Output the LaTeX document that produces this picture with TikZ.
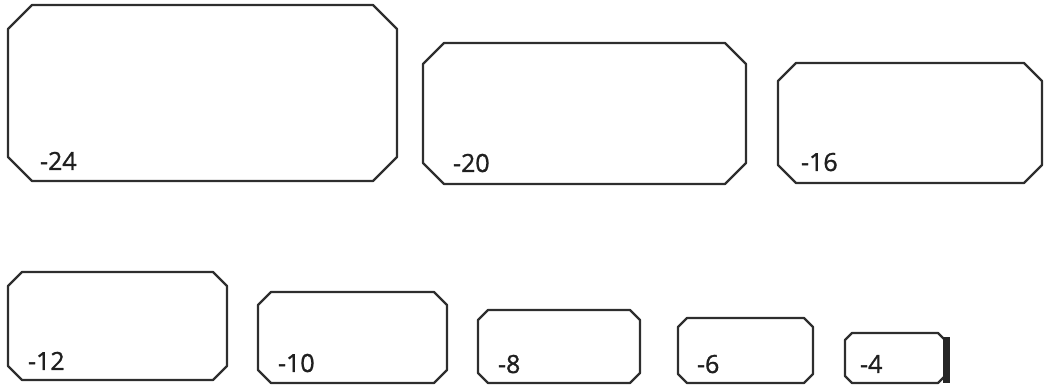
\documentclass[tikz,border=0pt]{standalone}
\usepackage{fontspec}
\setmainfont{Open Sans}[AutoFakeBold=1.2]
\usetikzlibrary{calc}
% outline with cut corners round a named node
\newcommand{\cutbox}[2]{%
  \draw[edge] ([xshift=#2]#1.north west) -- ([xshift=-#2]#1.north east)
    -- ([yshift=-#2]#1.north east) -- ([yshift=#2]#1.south east)
    -- ([xshift=-#2]#1.south east) -- ([xshift=#2]#1.south west)
    -- ([yshift=#2]#1.south west) -- ([yshift=-#2]#1.north west) -- cycle;}
\begin{document}
\begin{tikzpicture}[x=1pt,y=1pt,
  every node/.style={inner sep=0pt,outer sep=0pt},
  plate/.style={rectangle},
  edge/.style={draw=black!82,line width=2.3pt,line join=round},
  num/.style={anchor=base west,font=\fontsize{25}{25}\selectfont\bfseries,text=black!88}]
  \useasboundingbox (0,0) rectangle (1045,388);
  % top row
  \node[plate,minimum width=389,minimum height=176] (b24) at (202.5,295) {};
  \node[plate,minimum width=323,minimum height=141] (b20) at (584.5,274.5) {};
  \node[plate,minimum width=264,minimum height=120] (b16) at (910,265) {};
  % bottom row
  \node[plate,minimum width=219,minimum height=108] (b12) at (117.5,62) {};
  \node[plate,minimum width=189,minimum height=91] (b10) at (352.5,50.5) {};
  \node[plate,minimum width=162,minimum height=73] (b8) at (559,41.5) {};
  \node[plate,minimum width=135,minimum height=65] (b6) at (745.5,37.5) {};
  \node[plate,minimum width=100,minimum height=50] (b4) at (895,30) {};
  \cutbox{b24}{24pt}
  \cutbox{b20}{21pt}
  \cutbox{b16}{18pt}
  \cutbox{b12}{14pt}
  \cutbox{b10}{13pt}
  \cutbox{b8}{10pt}
  \cutbox{b6}{9pt}
  \cutbox{b4}{7pt}
  \fill[black!85] (943,5) rectangle (950,51);
  % labels
  \node[num] (l24) at ([shift={(32,11)}]b24.south west) {-24};
  \node[num] (l20) at ([shift={(30,12)}]b20.south west) {-20};
  \node[num] (l16) at ([shift={(23,12)}]b16.south west) {-16};
  \node[num] (l12) at ([shift={(20,10)}]b12.south west) {-12};
  \node[num] (l10) at ([shift={(20,11)}]b10.south west) {-10};
  \node[num] (l8) at ([shift={(20,10)}]b8.south west) {-8};
  \node[num] (l6) at ([shift={(19,10)}]b6.south west) {-6};
  \node[num] (l4) at ([shift={(15,10)}]b4.south west) {-4};
\end{tikzpicture}
\end{document}
